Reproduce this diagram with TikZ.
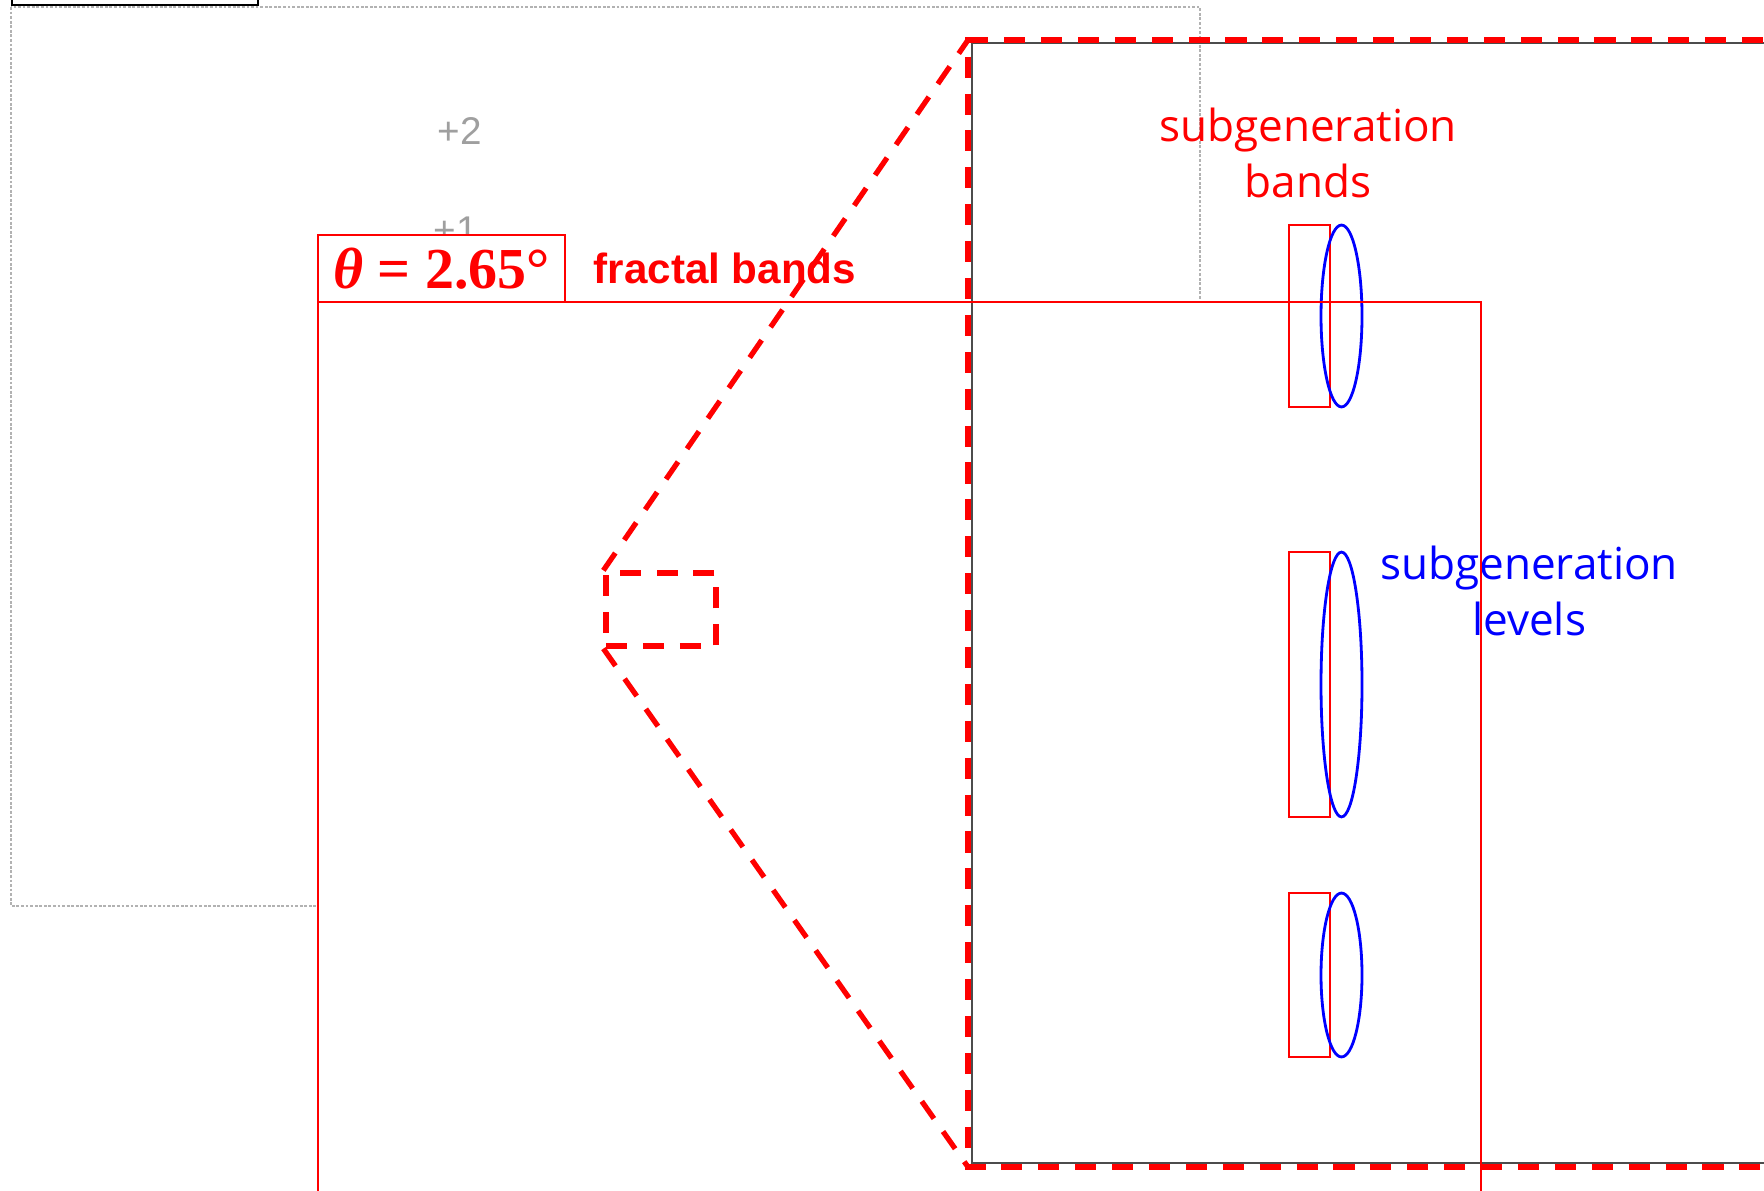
\documentclass[tikz,border=0pt]{standalone}
\usepackage{fontspec}
\setmainfont{Liberation Serif}
\newfontfamily\labelfont{Open Sans}
\newfontfamily\arialfont{Liberation Sans}
\usetikzlibrary{positioning}
\definecolor{bandred}{RGB}{255, 0, 0}
\definecolor{levelblue}{RGB}{0, 0, 255}

\begin{document}
\begin{tikzpicture}[
    x=0.02cm, y=-0.02cm,
    band/.style={draw=bandred, line width=1.6pt},
    level/.style={draw=levelblue, line width=1.6pt},
    zoomline/.style={draw=bandred, line width=3pt, dash pattern=on 12pt off 9pt},
    tick/.style={text=gray!75, font=\arialfont\fontsize{22}{24}\selectfont, inner sep=0pt},
    caption/.style={font=\labelfont\fontsize{25.1}{32}\selectfont, align=center, inner sep=0pt},
]

\useasboundingbox (0,0) rectangle (1764,1190);
\clip (0,0) rectangle (1764,1190);

% --- Background frame (dotted) ---
\draw[gray!60, line width=1.6pt, densely dotted] (11,7) rectangle (1200,906);
\draw[black, line width=1pt] (12,-5) -- (12,5) -- (258,5) -- (258,-5);

% --- Level ticks ---
\node[tick] (plustwo) at (459.5,131.5) {+2};
\node[tick] (plusone) at (456,230) {+1};

% --- Main panel ---
\fill[white] (318,302) rectangle (1481,1200);

\node[draw=bandred, line width=1.6pt, fill=white, inner sep=0pt,
      minimum width=4.94cm, minimum height=1.34cm, text=bandred,
      font=\fontsize{33}{38}\selectfont\bfseries]
    (theta) at (441.5,268.5) {{\itshape θ} = 2.65°};
\node[right=0.54cm of theta, inner sep=0pt, text=bandred,
      font=\arialfont\fontsize{24}{28}\selectfont\bfseries]
    (fractal) {fractal bands};

% --- Zoomed panel ---
\draw[black!70, line width=0.8pt] (1800,43) -- (972,43) -- (972,1163) -- (1800,1163);

% --- Subgeneration bands and levels ---
\foreach \ytop/\ybot in {225/407, 552/817, 893/1057} {
    \pgfmathsetmacro{\ymid}{(\ytop+\ybot)/2}
    \pgfmathsetmacro{\yrad}{(\ybot-\ytop)*0.01}
    \draw[band] (1289,\ytop) rectangle (1330,\ybot);
    \draw[level] (1341.5,\ymid) ellipse (0.41cm and \yrad cm);
}

\node[caption, text=bandred] (bandlabel) at (1308,153) {subgeneration\\bands};
\node[caption, text=levelblue] (levellabel) at (1529,591) {subgeneration\\levels};

\draw[band] (318,302) rectangle (1481,1200);

% --- Zoom marker ---
\coordinate (zoomNW) at (968,40);
\coordinate (zoomSW) at (968,1167);
\draw[zoomline] (1800,40) -- (zoomNW) -- (zoomSW) -- (1800,1167);

\node[zoomline, inner sep=0pt, minimum width=2.2cm, minimum height=1.46cm]
    (zoomsrc) at (661,609.5) {};
\draw[zoomline] (zoomsrc.north west) -- (zoomNW);
\draw[zoomline] (zoomsrc.south west) -- (zoomSW);

\end{tikzpicture}
\end{document}
